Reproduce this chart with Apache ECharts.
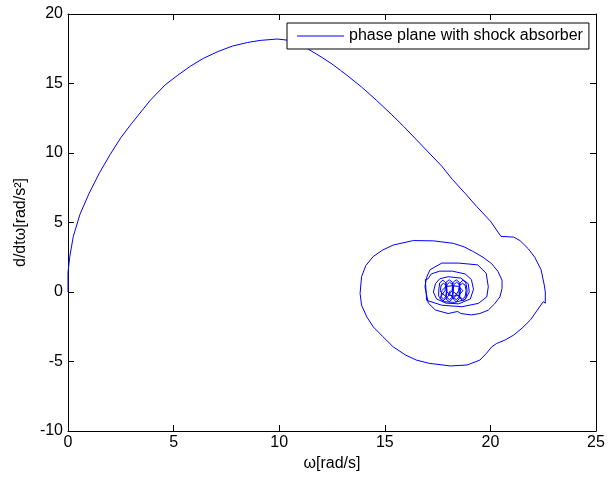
<!DOCTYPE html>
<html>
<head>
<meta charset="utf-8">
<script src="https://cdn.jsdelivr.net/npm/echarts@6/dist/echarts.min.js"></script>
<style>
  html, body { margin: 0; padding: 0; background: #fff; }
  #chart { width: 614px; height: 479px; }
</style>
</head>
<body>
<div id="chart"></div>
<script>
// 数据：相平面轨迹 [ω, dω/dt]
var riseArc = [
  [0, 0], [0, 1.4], [0.08, 2.5], [0.25, 4.0], [0.57, 5.6], [1.0, 7.1], [1.5, 8.6],
  [2.0, 9.9], [2.5, 11.1], [3.0, 12.1], [3.45, 12.95], [3.9, 13.8], [4.6, 14.9], [5.2, 15.6],
  [5.8, 16.25], [6.4, 16.8], [7.1, 17.3], [7.8, 17.7], [8.5, 17.95], [9.1, 18.1], [9.9, 18.2],
  [10.5, 18.1], [11.0, 17.8], [11.4, 17.45], [12.0, 16.9], [12.5, 16.4], [12.9, 15.95],
  [13.2, 15.6], [13.9, 14.75], [14.6, 13.8], [15.3, 12.8], [15.9, 11.9], [16.5, 10.95],
  [17.1, 10.0], [17.7, 9.05], [18.2, 8.1], [18.8, 7.1], [19.35, 6.15], [20.0, 5.1], [20.5, 4.0]
];
var outerLoop = [
  [21.1, 3.95], [21.4, 3.7], [21.8, 3.1], [22.1, 2.5], [22.4, 1.6], [22.55, 0.5],
  [22.6, 0.0], [22.6, -0.8], [22.5, -0.7], [22.2, -1.35], [21.9, -2.0], [21.5, -2.6],
  [21.1, -3.1], [20.7, -3.45], [20.3, -3.7], [20.06, -3.95], [19.82, -4.4], [19.5, -4.9],
  [18.9, -5.25], [18.1, -5.32], [17.1, -5.13], [16.5, -4.9], [16.0, -4.55], [15.4, -3.95],
  [14.9, -3.2], [14.45, -2.5], [14.15, -1.8], [13.9, -0.95], [13.83, -0.1],
  [13.9, 1.1], [14.1, 1.9], [14.45, 2.55], [14.9, 3.02], [15.4, 3.38], [16.35, 3.7], [17.3, 3.68],
  [18.25, 3.5], [18.75, 3.25], [19.2, 2.9], [19.65, 2.5], [20.05, 2.05], [20.35, 1.5],
  [20.55, 0.85], [20.55, 0.25], [20.45, -0.35], [20.2, -0.85]
];
var innerRings = [
  [19.9, -1.3], [19.5, -1.55], [19.1, -1.65], [18.6, -1.55], [18.45, -1.4], [18.0, -1.55],
  [17.4, -1.3], [17.06, -0.8], [16.9, 0.38], [16.98, 1.05], [17.14, 1.6], [17.7, 2.08], [18.5, 2.08],
  [19.4, 1.95], [19.8, 1.35], [19.9, 0.38], [19.83, -0.35], [19.43, -0.82],
  [18.65, -1.06], [17.7, -0.95], [16.98, -0.6], [16.92, -0.6], [16.92, 0.9],
  [17.05, 0.95], [17.2, 1.3], [17.6, 1.5], [18.2, 1.5], [18.8, 1.3], [19.1, 0.9],
  [19.2, 0.2], [19.05, -0.5], [18.5, -0.85], [17.9, -0.8], [17.45, -0.5], [17.3, 0.0],
  [17.4, 0.6], [17.6, 0.95], [18.0, 1.1], [18.6, 1.0], [18.95, 0.6], [19.0, 0.0],
  [18.8, -0.55], [18.3, -0.75], [17.8, -0.7], [17.55, -0.3]
];
var coreLoops = [
  [17.55, 0.1], [17.6, 0.65], [17.75, 0.85], [17.9, 0.65], [17.95, 0.1], [17.9, -0.45], [17.75, -0.65], [17.6, -0.45],
  [17.85, 0.1], [17.9, 0.7], [18.05, 0.88], [18.2, 0.7], [18.25, 0.1], [18.2, -0.5], [18.05, -0.7], [17.9, -0.5],
  [18.18, 0.1], [18.24, 0.7], [18.38, 0.88], [18.52, 0.7], [18.58, 0.1], [18.52, -0.5], [18.38, -0.7], [18.24, -0.5],
  [18.5, 0.1], [18.56, 0.65], [18.7, 0.85], [18.84, 0.65], [18.9, 0.1], [18.84, -0.45], [18.7, -0.62], [18.56, -0.45],
  [18.5, 0.1], [18.55, 0.5], [18.68, 0.62], [18.8, 0.5], [18.85, 0.1], [18.8, -0.35], [18.68, -0.5], [18.55, -0.35],
  [18.22, 0.05], [18.28, 0.55], [18.4, 0.7], [18.52, 0.55], [18.56, 0.05], [18.5, -0.4], [18.38, -0.55], [18.26, -0.4],
  [17.9, 0.05], [17.95, 0.55], [18.07, 0.7], [18.19, 0.55], [18.22, 0.05], [18.18, -0.4], [18.06, -0.55], [17.94, -0.4],
  [17.62, 0.05], [17.67, 0.5], [17.78, 0.62], [17.9, 0.5], [17.92, 0.05], [17.88, -0.35], [17.78, -0.5], [17.66, -0.35],
  [17.7, 0.1], [17.9, 0.4], [18.2, 0.45], [18.5, 0.4], [18.7, 0.1], [18.5, -0.25], [18.2, -0.3], [18.0, -0.2], [18.1, 0.1]
];
var xTicks = { min: 0, max: 25, interval: 5 };
var yTicks = { min: -10, max: 20, interval: 5 };

var trajectory = riseArc.concat(outerLoop, innerRings, coreLoops);

var chart = echarts.init(document.getElementById('chart'));
var fontFamily = '"Liberation Sans", Arial, Helvetica, sans-serif';
function tickStyle() {
    return { show: true, inside: true, length: 6, lineStyle: { color: '#000', width: 1 } };
}
function lineStyle() {
    return { show: true, onZero: false, lineStyle: { color: '#000', width: 1 } };
}

chart.setOption({
    animation: false,
    backgroundColor: '#fff',
    grid: { left: 68, top: 14, right: 18, bottom: 48 },
    legend: {
        data: [{ name: 'phase plane with shock absorber', icon: 'rect' }],
        left: 287, top: 23,
        itemWidth: 47, itemHeight: 1, itemGap: 5,
        padding: [5, 6, 5, 10],
        backgroundColor: '#fff', borderColor: '#000', borderWidth: 1, borderRadius: 0,
        textStyle: { color: '#000', fontSize: 16, fontFamily: fontFamily }
    },
    xAxis: [
        {
            type: 'value', min: xTicks.min, max: xTicks.max, interval: xTicks.interval,
            name: 'ω[rad/s]', nameLocation: 'middle', nameGap: 25,
            nameTextStyle: { color: '#000', fontSize: 16, fontFamily: fontFamily },
            axisLine: lineStyle(), axisTick: tickStyle(), splitLine: { show: false },
            axisLabel: { color: '#000', fontSize: 16, fontFamily: fontFamily, margin: 4 }
        },
        {
            type: 'value', position: 'top', min: xTicks.min, max: xTicks.max, interval: xTicks.interval,
            axisLine: lineStyle(), axisTick: tickStyle(), splitLine: { show: false }, axisLabel: { show: false }
        }
    ],
    yAxis: [
        {
            type: 'value', min: yTicks.min, max: yTicks.max, interval: yTicks.interval,
            name: 'd/dtω[rad/s²]', nameLocation: 'middle', nameGap: 38,
            nameTextStyle: { color: '#000', fontSize: 16, fontFamily: fontFamily },
            axisLine: lineStyle(), axisTick: tickStyle(), splitLine: { show: false },
            axisLabel: { color: '#000', fontSize: 16, fontFamily: fontFamily, margin: 5 }
        },
        {
            type: 'value', position: 'right', min: yTicks.min, max: yTicks.max, interval: yTicks.interval,
            axisLine: lineStyle(), axisTick: tickStyle(), splitLine: { show: false }, axisLabel: { show: false }
        }
    ],
    series: [
        {
            name: 'phase plane with shock absorber',
            type: 'line',
            data: trajectory,
            symbol: 'none',
            smooth: false,
            lineStyle: { color: '#0000ff', width: 1 },
            itemStyle: { color: '#0000ff' }
        }
    ]
});
</script>
</body>
</html>
